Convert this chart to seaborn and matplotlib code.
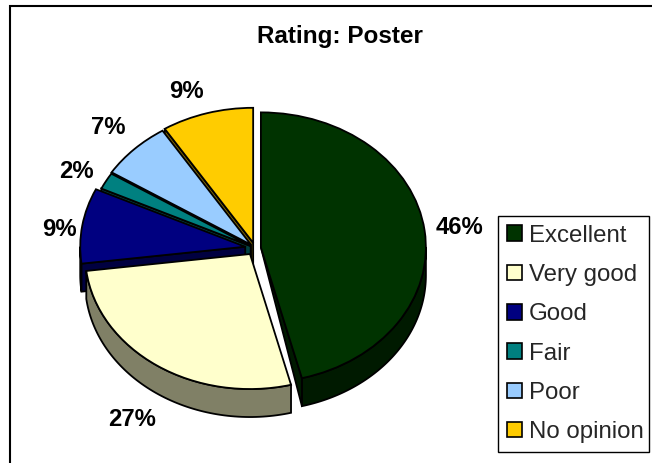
#!/usr/bin/env python3

import numpy as np
import seaborn as sns
import matplotlib.pyplot as plt
from matplotlib.patches import Patch, Polygon

categories = ["Excellent", "Very good", "Good", "Fair", "Poor", "No opinion"]
shares = [46, 27, 9, 2, 7, 9]
explode = [0.036, 0.054, 0.06, 0.03, 0.035, 0.04]
colors = ["#003300", "#FFFFCC", "#000080", "#008080", "#99CCFF", "#FFCC00"]
label_spots = [(459, 228), (132, 419), (59, 229), (76, 171), (108, 128), (186, 91)]

W, H = 652, 463
RX, RY = 165, 135
CX, CY = 255, 248
DEPTH = 28
yscale = RX / RY


def to_y(py):
    # pixel row to data units, the y axis is squashed to make the pie tilt
    return (H - py) * yscale


def arc(wedge, t0, t1):
    t = np.radians(np.linspace(t0, t1, 80))
    x0, y0 = wedge.center
    return np.column_stack([x0 + wedge.r * np.cos(t), y0 + wedge.r * np.sin(t)])


def add_wall(ax, wedge, color, z):
    # outer rim, only the part that faces the viewer
    t0 = max(wedge.theta1, -180)
    t1 = min(wedge.theta2, 0)
    if t1 <= t0:
        return
    top = arc(wedge, t0, t1)
    low = top[::-1] - [0, DEPTH * yscale]
    ax.add_patch(Polygon(np.vstack([top, low]), fc=color, ec="black", lw=1.3, zorder=z))


def add_cut(ax, wedge, angle, color, z, apex_drop=True):
    # flat cut face along one radius of the slice
    x0, y0 = wedge.center
    edge = arc(wedge, angle, angle)[0]
    drop = np.array([0, DEPTH * yscale])
    pts = [(x0, y0), edge, edge - drop]
    if apex_drop:
        pts.append((x0, y0 - drop[1]))
    ax.add_patch(Polygon(pts, fc=color, ec="black", lw=1.3, zorder=z))


sns.set_theme(style="white")
plt.rcParams["font.family"] = ["Liberation Sans", "DejaVu Sans"]
palette = sns.color_palette(colors)
dark = [tuple(c / 2 for c in col) for col in palette]

fig = plt.figure(figsize=(W / 100, H / 100), dpi=100)
ax = fig.add_axes([0, 0, 1, 1])

wedges, _ = ax.pie(
    shares,
    explode=[e * RX for e in explode],
    colors=palette,
    startangle=90,
    counterclock=False,
    radius=RX,
    center=(CX, to_y(CY)),
    frame=True,
    wedgeprops={"edgecolor": "black", "linewidth": 1.3},
)
ax.set_aspect("auto")
ax.set_xlim(0, W)
ax.set_ylim(0, H * yscale)
ax.axis("off")

# back slices first, Excellent ends up on top
order = {5: 10, 4: 12, 3: 14, 2: 16, 1: 18, 0: 20}
for i, wedge in enumerate(wedges):
    z = order[i]
    wedge.set_zorder(z)
    add_wall(ax, wedge, dark[i], z - 1)
    if i == 0:
        add_cut(ax, wedge, wedge.theta1, dark[i], z - 1, apex_drop=False)
    elif i >= 2:
        add_cut(ax, wedge, wedge.theta2, dark[i], z - 1)

for value, (px, py) in zip(shares, label_spots):
    ax.text(px, to_y(py), f"{value}%", ha="center", va="center",
            fontsize=17.2, fontweight="bold", color="black", zorder=30)

ax.text(340, to_y(37), "Rating: Poster", ha="center", va="center",
        fontsize=17.5, fontweight="bold", color="black", zorder=30)

# chart frame, only top and left fall inside the picture
ax.plot([10, 10, W], [0, to_y(5.5), to_y(5.5)], color="black", lw=1.5, zorder=1,
        solid_joinstyle="miter")

handles = [Patch(fc=c, ec="black", lw=1.2) for c in palette]
leg = ax.legend(
    handles,
    categories,
    loc="lower left",
    bbox_to_anchor=(498 / W, (H - 452) / H, 151 / W, 238 / H),
    mode="expand",
    fontsize=17.3,
    frameon=True,
    fancybox=False,
    edgecolor="black",
    framealpha=1,
    handlelength=0.62,
    handleheight=0.62,
    handletextpad=0.3,
    labelspacing=0.72,
    borderaxespad=0,
    borderpad=0.37,
)
leg.set_zorder(40)
leg.get_frame().set_linewidth(1.0)

fig.savefig("out.png", dpi=100)
